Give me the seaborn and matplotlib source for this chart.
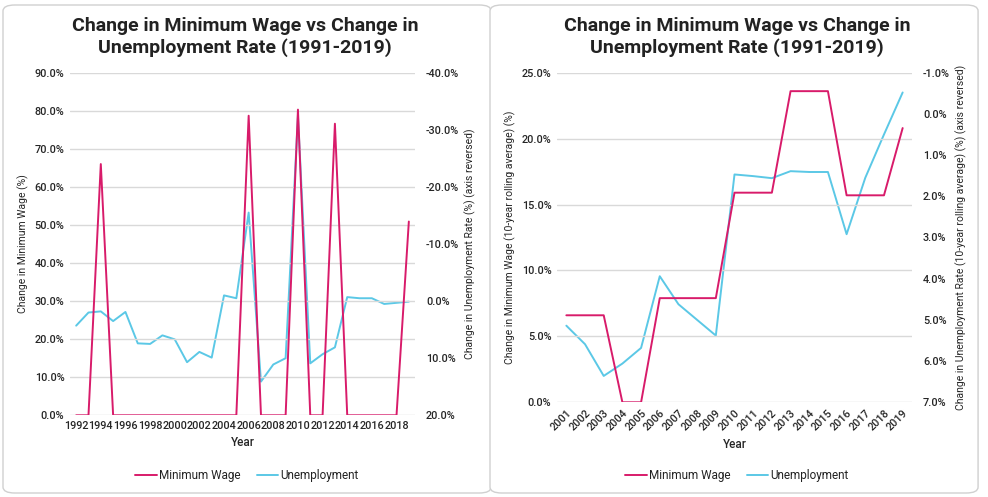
import seaborn as sns
import matplotlib.pyplot as plt
import pandas as pd
from matplotlib.patches import FancyBboxPatch
from matplotlib.ticker import FuncFormatter
from matplotlib.lines import Line2D

# annual changes, 1992-2019
years = list(range(1992, 2020))
min_wage = [0, 0, 66.0, 0, 0, 0, 0, 0, 0, 0, 0, 0, 0, 0, 78.7, 0, 0, 0, 80.3, 0, 0, 76.6,
            0, 0, 0, 0, 0, 50.9]
unemployment = [4.3, 2.0, 1.8, 3.5, 1.9, 7.4, 7.5, 6.0, 6.7, 10.7, 8.9, 9.9, -1.0, -0.5,
                -15.5, 14.1, 11.1, 10.0, -32.4, 10.9, 9.3, 8.1, -0.7, -0.5, -0.5, 0.5, 0.3, 0.1]

# 10-year rolling averages, 2001-2019
roll_years = list(range(2001, 2020))
roll_wage = [6.6, 6.6, 6.6, 0.0, 0.0, 7.9, 7.9, 7.9, 7.9, 15.9, 15.9, 15.9, 23.6, 23.6, 23.6,
             15.7, 15.7, 15.7, 20.8]
roll_unemp = [5.14, 5.59, 6.36, 6.06, 5.68, 3.94, 4.62, 5.0, 5.38, 1.47, 1.51, 1.56, 1.39,
              1.41, 1.41, 2.92, 1.55, 0.5, -0.52]

PINK = "#D81B6A"
CYAN = "#5BC8E6"

sns.set_theme(style="white")
plt.rcParams['font.family'] = ['Roboto', 'DejaVu Sans']
plt.rcParams['text.color'] = '#222222'

fig = plt.figure(figsize=(9.88, 4.97), dpi=100)

# panel frames
for x0 in (3 / 988, 490 / 988):
    fig.patches.append(FancyBboxPatch((x0, 4 / 497), 494 / 988 - 0.006, 488 / 497,
                                      boxstyle="round,pad=0,rounding_size=0.012",
                                      transform=fig.transFigure, facecolor='white',
                                      edgecolor='#d0d0d0', linewidth=1.0, zorder=-1))

pct = FuncFormatter(lambda v, p: f"{v:.1f}%")
title = "Change in Minimum Wage vs Change in\nUnemployment Rate (1991-2019)"


def style(ax, tw):
    for s in ax.spines.values():
        s.set_visible(False)
    for s in tw.spines.values():
        s.set_visible(False)
    ax.yaxis.grid(True, color='#d9d9d9', linewidth=1)
    ax.set_axisbelow(True)
    ax.tick_params(axis='both', labelsize=7.8, length=0, pad=4)
    tw.tick_params(axis='y', labelsize=7.8, length=0, pad=8)
    ax.yaxis.set_major_formatter(pct)
    tw.yaxis.set_major_formatter(pct)
    for lab in ax.get_xticklabels() + ax.get_yticklabels() + tw.get_yticklabels():
        lab.set_fontweight('medium')


# ---- left chart ----
ax1 = fig.add_axes([70 / 988, (497 - 415.3) / 497, 345 / 988, 342.6 / 497])
tw1 = ax1.twinx()
df1 = pd.DataFrame({'Year': years, 'Minimum Wage': min_wage, 'Unemployment': unemployment})
sns.lineplot(data=df1, x='Year', y='Unemployment', ax=tw1, color=CYAN, linewidth=1.4)
sns.lineplot(data=df1, x='Year', y='Minimum Wage', ax=ax1, color=PINK, linewidth=1.4)
ax1.set_zorder(tw1.get_zorder() + 1)
ax1.patch.set_visible(False)
ax1.set_ylim(0, 90)
ax1.set_yticks(range(0, 91, 10))
tw1.set_ylim(20, -40)
tw1.set_yticks(range(-40, 21, 10))
ax1.set_xlim(1991.5, 2019.5)
ax1.set_xticks(range(1992, 2019, 2))
ax1.set_xlabel('Year', fontsize=8.5, fontweight='medium')
ax1.set_ylabel('Change in Minimum Wage (%)', fontsize=7.5)
tw1.set_ylabel('Change in Unemployment Rate (%) (axis reversed)', fontsize=7.5)
style(ax1, tw1)
fig.text(245 / 988, 1 - 37 / 497, title, ha='center', va='center', fontsize=14,
         fontweight='bold', linespacing=1.2)

# ---- right chart ----
ax2 = fig.add_axes([557 / 988, (497 - 402.3) / 497, 355 / 988, 329.6 / 497])
tw2 = ax2.twinx()
df2 = pd.DataFrame({'Year': roll_years, 'Minimum Wage': roll_wage, 'Unemployment': roll_unemp})
sns.lineplot(data=df2, x='Year', y='Unemployment', ax=tw2, color=CYAN, linewidth=1.4)
sns.lineplot(data=df2, x='Year', y='Minimum Wage', ax=ax2, color=PINK, linewidth=1.4)
ax2.set_zorder(tw2.get_zorder() + 1)
ax2.patch.set_visible(False)
ax2.set_ylim(0, 25)
ax2.set_yticks(range(0, 26, 5))
tw2.set_ylim(7, -1)
tw2.set_yticks(range(-1, 8))
ax2.set_xlim(2000.5, 2019.5)
ax2.set_xticks(roll_years)
ax2.set_xticklabels([str(y) for y in roll_years], rotation=45, ha='right', rotation_mode='anchor')
ax2.set_xlabel('Year', fontsize=8.5, fontweight='medium')
ax2.set_ylabel('Change in Minimum Wage (10-year rolling average) (%)', fontsize=7.5)
tw2.set_ylabel('Change in Unemployment Rate (10-year rolling average) (%) (axis reversed)',
               fontsize=7.5)
style(ax2, tw2)
fig.text(737 / 988, 1 - 37 / 497, title, ha='center', va='center', fontsize=14,
         fontweight='bold', linespacing=1.2)

# legends
handles = [Line2D([], [], color=PINK, linewidth=1.4), Line2D([], [], color=CYAN, linewidth=1.4)]
for cx in (247 / 988, 737 / 988):
    fig.legend(handles, ['Minimum Wage', 'Unemployment'], loc='center',
               bbox_to_anchor=(cx, 1 - 476 / 497), ncol=2, frameon=False, fontsize=8.5,
               handlelength=1.8, handletextpad=0.2, columnspacing=1.4)

fig.savefig('out.png', dpi=100)
